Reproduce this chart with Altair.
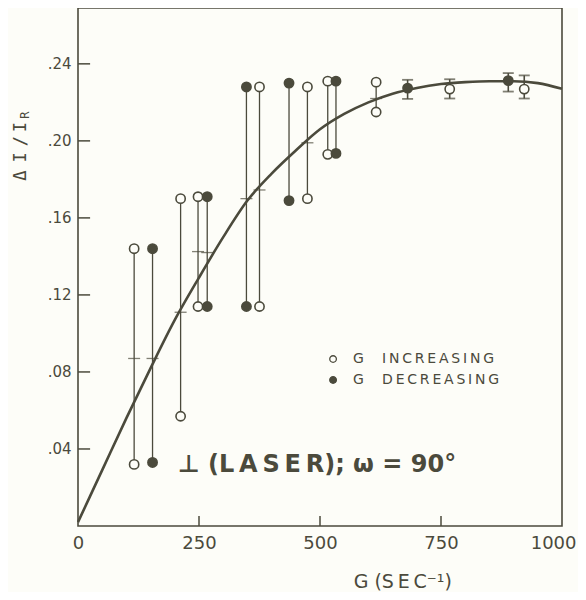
import altair as alt
import pandas as pd

INK = "#4b4a3c"
BG = "#fdfdf8"

# paired readings (top and bottom of each vertical bar)
pair_g = [116, 154, 212, 248, 267, 348, 375, 436, 474, 516, 533, 616]
pair_hi = [0.144, 0.144, 0.170, 0.171, 0.171, 0.228, 0.228, 0.230, 0.228, 0.231, 0.231, 0.2305]
pair_lo = [0.032, 0.033, 0.057, 0.114, 0.114, 0.114, 0.114, 0.169, 0.170, 0.193, 0.1935, 0.215]
pair_kind = ["open", "filled", "open", "open", "filled", "filled", "open",
             "filled", "open", "open", "filled", "open"]

# mean marks on the bars
mid_g = [116, 154, 212, 248, 267, 348, 375, 474, 616]
mid_y = [0.087, 0.087, 0.111, 0.1425, 0.142, 0.170, 0.1745, 0.199, 0.222]

# points with small error bars
err_g = [681, 768, 889, 922]
err_y = [0.2274, 0.2269, 0.2313, 0.2269]
err_hi = [0.2317, 0.2320, 0.2352, 0.2340]
err_lo = [0.2218, 0.2220, 0.2256, 0.2220]
err_kind = ["filled", "open", "filled", "open"]

# fitted curve
curve_g = [0, 50, 100, 150, 200, 250, 300, 350, 400, 450, 500,
           550, 600, 650, 700, 750, 800, 850, 900, 950, 1000]
curve_y = [0.002, 0.029, 0.056, 0.082, 0.107, 0.129, 0.150, 0.169, 0.183, 0.195, 0.206,
           0.214, 0.220, 0.2245, 0.2275, 0.2295, 0.2305, 0.231, 0.231, 0.230, 0.227]

x_ticks = [0, 250, 500, 750, 1000]
y_ticks = [0.04, 0.08, 0.12, 0.16, 0.20, 0.24]

xs = alt.Scale(domain=[0, 1000], nice=False)
ys = alt.Scale(domain=[0, 0.269], nice=False)
ax_x = alt.Axis(values=x_ticks, title=None, ticks=False, domain=False, grid=False,
                labelFontSize=18, labelFont="DejaVu Sans", labelColor=INK, labelPadding=8,
                labelFlush=False, labelExpr="format(datum.value, 'd')",
                labelAlign={"condition": {"test": "datum.value >= 1000", "value": "right"},
                            "value": "center"},
                labelOffset={"condition": {"test": "datum.value >= 1000", "value": 14},
                             "value": 0})
ax_y = alt.Axis(values=y_ticks, title=None, ticks=False, domain=False, grid=False,
                labelFontSize=15, labelFont="DejaVu Sans", labelColor=INK, labelPadding=7,
                labelExpr="replace(format(datum.value, '.2f'), '0.', '.')")


def X(f):
    return alt.X(f, scale=xs, axis=ax_x)


def Y(f):
    return alt.Y(f, scale=ys, axis=ax_y)


curve_df = pd.DataFrame({"g": curve_g, "y": curve_y})
pair_df = pd.DataFrame({"g": pair_g, "hi": pair_hi, "lo": pair_lo, "kind": pair_kind})
mid_df = pd.DataFrame({"g": mid_g, "y": mid_y})
err_df = pd.DataFrame({"g": err_g, "y": err_y, "hi": err_hi, "lo": err_lo, "kind": err_kind})

pts = pd.concat([
    pd.DataFrame({"g": pair_g, "y": pair_hi, "kind": pair_kind}),
    pd.DataFrame({"g": pair_g, "y": pair_lo, "kind": pair_kind}),
    pd.DataFrame({"g": err_g, "y": err_y, "kind": err_kind}),
], ignore_index=True)

fill_scale = alt.Scale(domain=["open", "filled"], range=[BG, INK])

curve = alt.Chart(curve_df).mark_line(
    interpolate="monotone", color=INK, strokeWidth=2.6
).encode(x=X("g:Q"), y=Y("y:Q"))

bars = alt.Chart(pair_df).mark_rule(color=INK, strokeWidth=1.3).encode(
    x=X("g:Q"), y=Y("lo:Q"), y2="hi:Q")

mids = alt.Chart(mid_df).mark_tick(color=INK, orient="horizontal", size=12, thickness=1.3).encode(
    x=X("g:Q"), y=Y("y:Q"))

ebars = alt.Chart(err_df).mark_rule(color=INK, strokeWidth=1.6).encode(
    x=X("g:Q"), y=Y("lo:Q"), y2="hi:Q")
ecap_hi = alt.Chart(err_df).mark_tick(color=INK, orient="horizontal", size=11, thickness=1.8).encode(
    x=X("g:Q"), y=Y("hi:Q"))
ecap_lo = alt.Chart(err_df).mark_tick(color=INK, orient="horizontal", size=11, thickness=1.8).encode(
    x=X("g:Q"), y=Y("lo:Q"))

points = alt.Chart(pts).mark_point(
    shape="circle", size=86, filled=True, stroke=INK, strokeWidth=1.6, opacity=1
).encode(
    x=X("g:Q"), y=Y("y:Q"),
    fill=alt.Fill("kind:N", scale=fill_scale, legend=None),
)

# inward axis ticks
ytick_df = pd.DataFrame({"y": y_ticks, "x0": [0] * len(y_ticks), "x1": [25] * len(y_ticks)})
yticks = alt.Chart(ytick_df).mark_rule(color=INK, strokeWidth=1.5).encode(
    x=X("x0:Q"), x2="x1:Q", y=Y("y:Q"))
xtick_df = pd.DataFrame({"g": [250, 500, 750], "y0": [0] * 3, "y1": [0.0052] * 3})
xticks = alt.Chart(xtick_df).mark_rule(color=INK, strokeWidth=1.5).encode(
    x=X("g:Q"), y=Y("y0:Q"), y2="y1:Q")

# legend
leg_kind = ["open", "filled"]
leg_y = [0.0867, 0.0758]
leg_words = ["INCREASING", "DECREASING"]
thin = "\u2009"
leg_df = pd.DataFrame({"g": [527, 527], "y": leg_y, "kind": leg_kind,
                       "G": ["G", "G"], "w": [thin.join(w) for w in leg_words]})
leg_pts = alt.Chart(leg_df).mark_point(
    shape="circle", size=44, filled=True, stroke=INK, strokeWidth=1.3, opacity=1
).encode(
    x=X("g:Q"), y=Y("y:Q"),
    fill=alt.Fill("kind:N", scale=fill_scale, legend=None),
)
leg_g = alt.Chart(leg_df).mark_text(
    align="left", baseline="middle", font="DejaVu Sans", fontSize=14, color=INK, dx=20
).encode(x=X("g:Q"), y=Y("y:Q"), text="G:N")
leg_w = alt.Chart(leg_df).mark_text(
    align="left", baseline="middle", font="DejaVu Sans", fontSize=14, color=INK, dx=49
).encode(x=X("g:Q"), y=Y("y:Q"), text="w:N")

# annotations and titles
ann_df = pd.DataFrame({"g": [206], "y": [0.0317],
                       "t": ["\u22a5   (" + thin.join("LASER") + ");   \u03c9  =  90\u00b0"]})
ann = alt.Chart(ann_df).mark_text(
    align="left", baseline="middle", font="DejaVu Sans", fontSize=24, fontWeight="bold", color=INK
).encode(x=X("g:Q"), y=Y("y:Q"), text="t:N")

xt_df = pd.DataFrame({"g": [671], "y": [-0.0291],
                      "t": ["G  (" + thin.join("SEC") + "\u207b\u00b9)"]})
xtitle = alt.Chart(xt_df).mark_text(
    align="center", baseline="middle", font="DejaVu Sans", fontSize=19, color=INK
).encode(x=X("g:Q"), y=Y("y:Q"), text="t:N")

# rotated y title, one glyph group per row
yt_chars = ["\u0394", "I", "/", "I", "R"]
yt_g = [-118, -118, -118, -118, -109]
yt_y = [0.1820, 0.1914, 0.1999, 0.2072, 0.2134]
yt_size = [17, 17, 17, 17, 12]
yt_df = pd.DataFrame({"g": yt_g, "y": yt_y, "t": yt_chars, "s": yt_size})
ytitle = alt.Chart(yt_df).mark_text(
    align="center", baseline="middle", angle=270, font="DejaVu Sans Mono", color=INK
).encode(
    x=X("g:Q"), y=Y("y:Q"), text="t:N",
    size=alt.Size("s:Q", scale=None, legend=None),
)

chart = alt.layer(
    curve, bars, mids, ebars, ecap_hi, ecap_lo, points, yticks, xticks,
    leg_pts, leg_g, leg_w, ann, xtitle, ytitle
).properties(
    width=484, height=518,
    autosize=alt.AutoSizeParams(type="none"),
    padding={"left": 70, "top": 0, "right": 16, "bottom": 66},
    background=BG,
).configure_view(
    stroke=INK, strokeWidth=1.6
)

chart.save("out.html", embed_options={"renderer": "svg", "actions": False})
